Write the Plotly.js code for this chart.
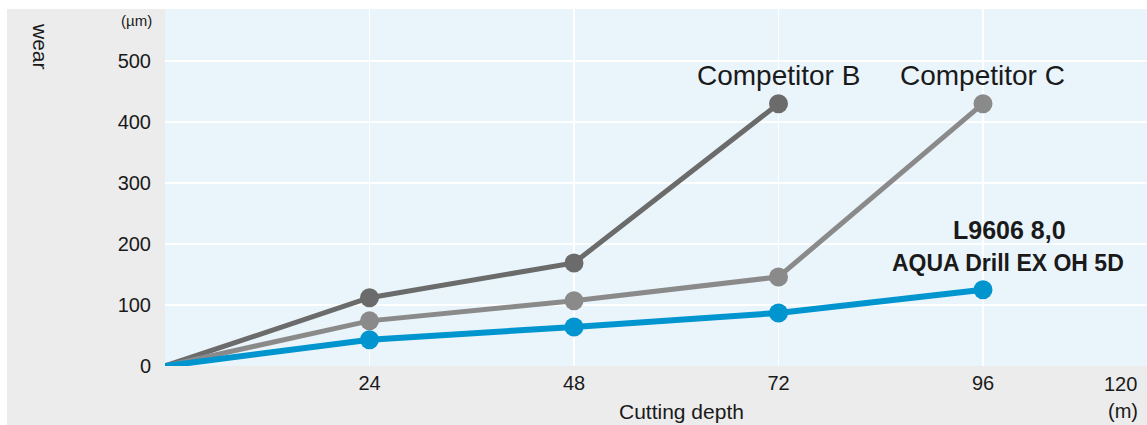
<!DOCTYPE html>
<html>
<head>
<meta charset="utf-8">
<script src="https://cdn.plot.ly/plotly-3.0.1.min.js"></script>
<style>
  html, body { margin: 0; padding: 0; background: #ffffff; }
  #chart { position: absolute; left: 7px; top: 9px; width: 1140px; height: 416px; }
</style>
</head>
<body>
<div id="chart"></div>
<script>
// ---- data ----
const depth = [0, 24, 48, 72, 96];
const competitorB = [0, 112, 169, 430];
const competitorC = [0, 74, 107, 146, 430];
const aquaDrill = [0, 43, 64, 87, 125];
const xTickVals = [24, 48, 72, 96];
const xTickText = ['24', '48', '72', '96'];
const yTickVals = [0, 100, 200, 300, 400, 500];
const seriesNames = ['Competitor B', 'Competitor C', 'L9606 8,0<br>AQUA Drill EX OH 5D'];

// ---- layout helpers (pixel -> paper within plot area) ----
const PL = 165, PR = 1147, PT = 9, PB = 366;
const px = v => (v - PL) / (PR - PL);
const py = v => (PB - v) / (PB - PT);

const font = 'Liberation Sans, Arial, sans-serif';
const txt = '#1a1a1a';

function trace(x, y, color, width, name) {
  return {
    x: x, y: y, name: name, type: 'scatter', mode: 'lines+markers',
    line: { color: color, width: width },
    marker: { color: color, opacity: 1, line: { width: 0 },
              size: [0, 19, 19, 19, 19].slice(0, y.length) },
    cliponaxis: false, hoverinfo: 'x+y', showlegend: false
  };
}

const data = [
  trace(depth.slice(0, competitorB.length), competitorB, '#6b6b6b', 5, seriesNames[0]),
  trace(depth, competitorC, '#8a8a8a', 5, seriesNames[1]),
  trace(depth, aquaDrill, '#0095cf', 6, seriesNames[2])
];

const layout = {
  width: 1140, height: 416,
  margin: { l: PL - 7, r: 0, t: 0, b: 416 - (PB - 9) },
  paper_bgcolor: '#ececec',
  plot_bgcolor: '#eaf4fb',
  font: { family: font, color: txt, size: 20 },
  xaxis: {
    range: [0, (PR - PL) / ((983 - 165) / 96)],
    tickvals: xTickVals, ticktext: xTickText,
    showgrid: true, gridcolor: '#ffffff', gridwidth: 1.5,
    zeroline: false, showline: false, ticks: '',
    tickfont: { size: 20, color: txt }, ticklabelstandoff: 3,
    fixedrange: true
  },
  yaxis: {
    range: [0, (PB - PT) / ((366 - 61) / 500)],
    tickvals: yTickVals,
    showgrid: true, gridcolor: '#ffffff', gridwidth: 1.5,
    zeroline: false, showline: false, ticks: '',
    tickfont: { size: 20, color: txt }, ticklabelstandoff: 13,
    fixedrange: true
  },
  annotations: [
    { text: 'wear', xref: 'paper', yref: 'paper', x: px(40), y: py(46), textangle: 90,
      showarrow: false, font: { size: 21, color: txt }, xanchor: 'center', yanchor: 'middle' },
    { text: '(µm)', xref: 'paper', yref: 'paper', x: px(136), y: py(21),
      showarrow: false, font: { size: 15, color: txt }, xanchor: 'center', yanchor: 'middle' },
    { text: '120', xref: 'paper', yref: 'paper', x: px(1120), y: py(384),
      showarrow: false, font: { size: 20, color: txt }, xanchor: 'center', yanchor: 'middle' },
    { text: 'Cutting depth', xref: 'paper', yref: 'paper', x: px(681), y: py(411),
      showarrow: false, font: { size: 21, color: txt }, xanchor: 'center', yanchor: 'middle' },
    { text: '(m)', xref: 'paper', yref: 'paper', x: px(1123), y: py(411),
      showarrow: false, font: { size: 20, color: txt }, xanchor: 'center', yanchor: 'middle' },
    { text: seriesNames[0], xref: 'paper', yref: 'paper', x: px(778), y: py(75),
      showarrow: false, font: { size: 28, color: txt }, xanchor: 'center', yanchor: 'middle' },
    { text: seriesNames[1], xref: 'paper', yref: 'paper', x: px(982), y: py(75),
      showarrow: false, font: { size: 28, color: txt }, xanchor: 'center', yanchor: 'middle' },
    { text: '<b>L9606 8,0</b>', xref: 'paper', yref: 'paper', x: px(1009), y: py(230),
      showarrow: false, font: { size: 25, color: txt }, xanchor: 'center', yanchor: 'middle' },
    { text: '<b>AQUA Drill EX OH 5D</b>', xref: 'paper', yref: 'paper', x: px(1008), y: py(263),
      showarrow: false, font: { size: 23, color: txt }, xanchor: 'center', yanchor: 'middle' }
  ]
};

Plotly.newPlot('chart', data, layout, { displayModeBar: false, staticPlot: true });
</script>
</body>
</html>
